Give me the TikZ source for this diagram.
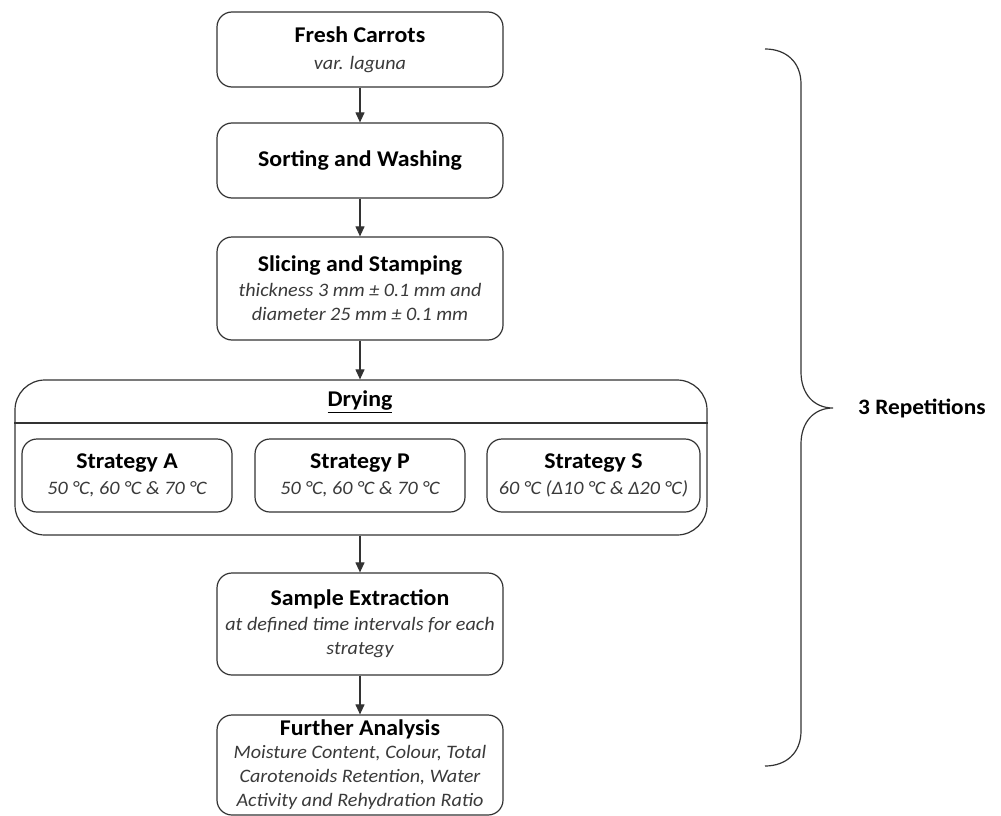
\documentclass[tikz,border=0pt]{standalone}
\usepackage{fontspec}
\setmainfont{Carlito}[FakeStretch=1.06]
\usetikzlibrary{arrows.meta}
\definecolor{linec}{HTML}{333333}
\definecolor{subc}{HTML}{3A3A3A}
\newcommand{\ttl}[1]{{\color{black}\bfseries\fontsize{22.5}{24}\selectfont #1}}
\newcommand{\sub}[1]{{\color{subc}\itshape\fontsize{19}{24}\selectfont #1}}
\begin{document}
\begin{tikzpicture}[x=1pt,y=-1pt,
  box/.style={draw=linec,line width=1.2pt,rounded corners=15pt,align=center,
    minimum width=286pt,inner sep=0pt,font=\fontsize{19}{24}\selectfont},
  sbox/.style={box,minimum width=210pt,minimum height=73pt},
  arr/.style={draw=linec,line width=1.1pt,-{Triangle[width=9pt,length=10pt]}}]
\useasboundingbox (0,0) rectangle (1001,816);
\fill[white] (0,0) rectangle (1001,816);

\node[box,minimum height=75pt] (fresh) at (360,49.5)
  {\ttl{Fresh Carrots}\\[3pt]\sub{var. laguna}};
\node[box,minimum height=75pt] (sort) at (360,160.5)
  {\ttl{Sorting and Washing}};
\node[box,minimum height=103pt] (slice) at (360,288.5)
  {\ttl{Slicing and Stamping}\\[1pt]\sub{thickness 3 mm ± 0.1 mm and}\\\sub{diameter 25 mm ± 0.1 mm}};

\node[box,rounded corners=30pt,minimum width=692pt,minimum height=155pt] (drying) at (361,457.5) {};
\node[font=\bfseries\fontsize{22.5}{24}\selectfont,inner sep=0pt] (dryt) at (360,402) {\underline{Drying}};
\coordinate (hl) at (drying.west |- 0,423);
\coordinate (hr) at (drying.east |- 0,423);
\draw[linec,line width=1.2pt] (hl) -- (hr);

\node[sbox] (sa) at (127,475.5) {\ttl{Strategy A}\\[2pt]\sub{50 °C, 60 °C \& 70 °C}};
\node[sbox] (sp) at (360,475.5) {\ttl{Strategy P}\\[2pt]\sub{50 °C, 60 °C \& 70 °C}};
\node[sbox,minimum width=213pt] (ss) at (593.5,475.5) {\ttl{Strategy S}\\[2pt]\sub{60 °C (Δ10 °C \& Δ20 °C)}};

\node[box,minimum height=102pt] (sample) at (360,624)
  {\ttl{Sample Extraction}\\[1pt]\sub{at defined time intervals for each}\\\sub{strategy}};
\node[box,minimum height=100pt] (further) at (360,765)
  {\ttl{Further Analysis}\\[-1pt]\sub{Moisture Content, Colour, Total}\\\sub{Carotenoids Retention, Water}\\\sub{Activity and Rehydration Ratio}};

\draw[arr] (fresh) -- (sort);
\draw[arr] (sort) -- (slice);
\draw[arr] (slice.south) -- (slice.south |- drying.north);
\draw[arr] (sample.north |- drying.south) -- (sample.north);
\draw[arr] (sample) -- (further);

\node[font=\bfseries\fontsize{22}{24}\selectfont,anchor=west,inner sep=0pt] (rep) at (858,408) {3 Repetitions};
\coordinate (tip) at (833,408);
\draw[linec,line width=1.2pt]
  (765,49) .. controls (786,49) and (801,62) .. (801,84)
  -- (801,372) .. controls (801,394) and (814,408) .. (tip)
  .. controls (814,408) and (801,422) .. (801,444)
  -- (801,731) .. controls (801,753) and (786,766) .. (765,766);
\end{tikzpicture}
\end{document}
